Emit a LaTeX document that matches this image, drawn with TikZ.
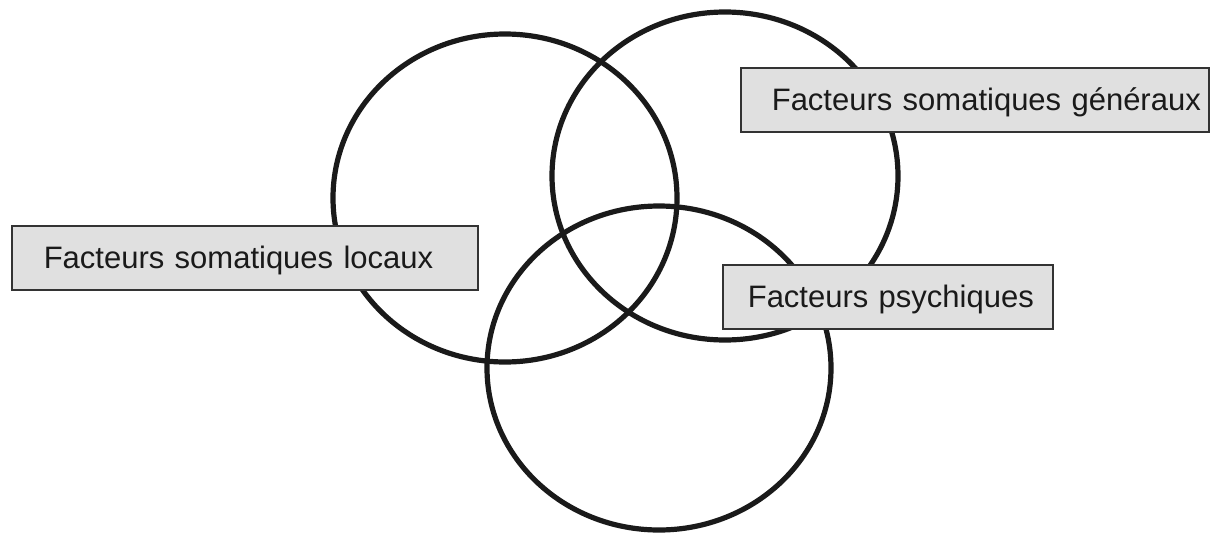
\documentclass[tikz,border=0pt]{standalone}
\usepackage{fontspec}
\setmainfont{Liberation Sans}
\usepackage{tikz}
\usepackage{xcolor}

\definecolor{ink}{HTML}{1A1A1A}
\definecolor{boxfill}{HTML}{E0E0E0}
\definecolor{boxline}{HTML}{333333}

\tikzset{
  ring/.style={draw=ink, line width=5.2pt},
  facteur/.style={anchor=north west, draw=boxline, fill=boxfill, line width=1.6pt,
    text=ink, font=\fontsize{31}{37}\selectfont, inner xsep=0pt, inner ysep=0pt,
    minimum height=64pt, text height=22pt, text depth=0pt, align=left},
  lpad/.style={execute at begin node={\hspace*{#1}}}
}

\begin{document}
\begin{tikzpicture}[x=1pt, y=-1pt]
\useasboundingbox (0,0) rectangle (1210,533);
% les trois cercles
\draw [ring] (505,198) ellipse [x radius=172, y radius=164];
\draw [ring] (725,176) ellipse [x radius=173, y radius=164];
\draw [ring] (659,368) ellipse [x radius=172, y radius=162];
% les etiquettes
\node [facteur, text width=466pt, lpad=32pt] (locaux) at (11,225) {Facteurs somatiques locaux};
\node [facteur, text width=468pt, lpad=31pt] (generaux) at (740,67) {Facteurs somatiques généraux};
\node [facteur, text width=330pt, lpad=25pt] (psychiques) at (722,264) {Facteurs psychiques};
\end{tikzpicture}
\end{document}
